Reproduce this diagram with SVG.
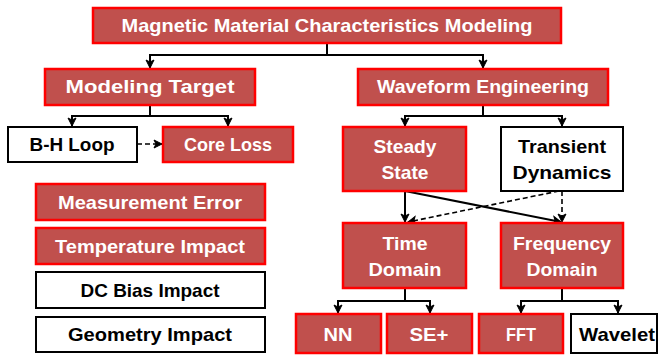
<svg xmlns="http://www.w3.org/2000/svg" width="659" height="355" viewBox="0 0 659 355">
<style>
.r{fill:#C0504D;stroke:#FF0000;stroke-width:2.5}
.w{fill:#FFFFFF;stroke:#000000;stroke-width:2}
text{font-family:"Liberation Sans",Arial,sans-serif;font-weight:bold;font-size:19px;text-anchor:middle}
.rt{fill:#FFFFFF}
.wt{fill:#000000}
.c{fill:none;stroke:#000000;stroke-width:2}
.d{fill:none;stroke:#000000;stroke-width:1.6;stroke-dasharray:5,3}
</style>
<defs>
<marker id="a" markerUnits="userSpaceOnUse" markerWidth="10" markerHeight="10" refX="9" refY="5" orient="auto" viewBox="0 0 10 10">
<path d="M1,1 L9,5 L1,9 L3,5 z" fill="#000000" stroke="#000000" stroke-width="1"/>
</marker>
</defs>
<g id="connectors">
<path class="c" d="M327,43 V55"/>
<path class="c" d="M327,55 H150 V68" marker-end="url(#a)"/>
<path class="c" d="M327,55 H483 V68" marker-end="url(#a)"/>
<path class="c" d="M150,105 V116"/>
<path class="c" d="M150,116 H72 V126" marker-end="url(#a)"/>
<path class="c" d="M150,116 H228 V126" marker-end="url(#a)"/>
<path class="d" d="M137,144 H162" marker-end="url(#a)"/>
<path class="c" d="M483,105 V116"/>
<path class="c" d="M483,116 H405 V126" marker-end="url(#a)"/>
<path class="c" d="M483,116 H562 V126" marker-end="url(#a)"/>
<path class="c" d="M405,191 V222" marker-end="url(#a)"/>
<path class="c" d="M405,191 L561,222" marker-end="url(#a)"/>
<path class="d" d="M559,191 L408,222" marker-end="url(#a)"/>
<path class="d" d="M562,191 V222" marker-end="url(#a)"/>
<path class="c" d="M405,288 V301"/>
<path class="c" d="M405,301 H338 V313" marker-end="url(#a)"/>
<path class="c" d="M405,301 H430 V313" marker-end="url(#a)"/>
<path class="c" d="M562,288 V301"/>
<path class="c" d="M562,301 H521 V313" marker-end="url(#a)"/>
<path class="c" d="M562,301 H618 V313" marker-end="url(#a)"/>
</g>
<g id="title"><rect class="r" x="93" y="8" width="468" height="35"/><text class="rt" x="327" y="32" textLength="411" lengthAdjust="spacingAndGlyphs">Magnetic Material Characteristics Modeling</text></g>
<g id="modeling-target"><rect class="r" x="45" y="69" width="210" height="36"/><text class="rt" x="150" y="93" textLength="169" lengthAdjust="spacingAndGlyphs">Modeling Target</text></g>
<g id="waveform-engineering"><rect class="r" x="358" y="69" width="250" height="36"/><text class="rt" x="483" y="93" textLength="212" lengthAdjust="spacingAndGlyphs">Waveform Engineering</text></g>
<g id="bh-loop"><rect class="w" x="8" y="127" width="129" height="35"/><text class="wt" x="72" y="151" textLength="85" lengthAdjust="spacingAndGlyphs">B-H Loop</text></g>
<g id="core-loss"><rect class="r" x="163" y="127" width="130" height="35"/><text class="rt" x="228" y="151" textLength="88" lengthAdjust="spacingAndGlyphs">Core Loss</text></g>
<g id="measurement-error"><rect class="r" x="36" y="184" width="229" height="36"/><text class="rt" x="150" y="209" textLength="184" lengthAdjust="spacingAndGlyphs">Measurement Error</text></g>
<g id="temperature-impact"><rect class="r" x="36" y="228" width="229" height="36"/><text class="rt" x="150" y="253" textLength="190" lengthAdjust="spacingAndGlyphs">Temperature Impact</text></g>
<g id="dc-bias-impact"><rect class="w" x="36" y="272" width="229" height="36"/><text class="wt" x="150" y="297" textLength="139" lengthAdjust="spacingAndGlyphs">DC Bias Impact</text></g>
<g id="geometry-impact"><rect class="w" x="36" y="317" width="229" height="35"/><text class="wt" x="150" y="341" textLength="164" lengthAdjust="spacingAndGlyphs">Geometry Impact</text></g>
<g id="steady-state"><rect class="r" x="343" y="127" width="123" height="64"/><text class="rt" x="405" y="153" textLength="63" lengthAdjust="spacingAndGlyphs">Steady</text><text class="rt" x="405" y="179" textLength="47" lengthAdjust="spacingAndGlyphs">State</text></g>
<g id="transient-dynamics"><rect class="w" x="501" y="127" width="122" height="64"/><text class="wt" x="562" y="153" textLength="88" lengthAdjust="spacingAndGlyphs">Transient</text><text class="wt" x="562" y="179" textLength="99" lengthAdjust="spacingAndGlyphs">Dynamics</text></g>
<g id="time-domain"><rect class="r" x="343" y="223" width="123" height="65"/><text class="rt" x="405" y="250" textLength="45" lengthAdjust="spacingAndGlyphs">Time</text><text class="rt" x="405" y="276" textLength="73" lengthAdjust="spacingAndGlyphs">Domain</text></g>
<g id="frequency-domain"><rect class="r" x="501" y="223" width="122" height="65"/><text class="rt" x="562" y="250" textLength="98" lengthAdjust="spacingAndGlyphs">Frequency</text><text class="rt" x="562" y="276" textLength="71" lengthAdjust="spacingAndGlyphs">Domain</text></g>
<g id="nn"><rect class="r" x="296" y="314" width="85" height="39"/><text class="rt" x="338" y="341" textLength="29" lengthAdjust="spacingAndGlyphs">NN</text></g>
<g id="se-plus"><rect class="r" x="387" y="314" width="85" height="39"/><text class="rt" x="429" y="341" textLength="39" lengthAdjust="spacingAndGlyphs">SE+</text></g>
<g id="fft"><rect class="r" x="479" y="314" width="84" height="39"/><text class="rt" x="521" y="341" textLength="30" lengthAdjust="spacingAndGlyphs">FFT</text></g>
<g id="wavelet"><rect class="w" x="571" y="314" width="86" height="39"/><text class="wt" x="617" y="341" textLength="76" lengthAdjust="spacingAndGlyphs">Wavelet</text></g>
</svg>
